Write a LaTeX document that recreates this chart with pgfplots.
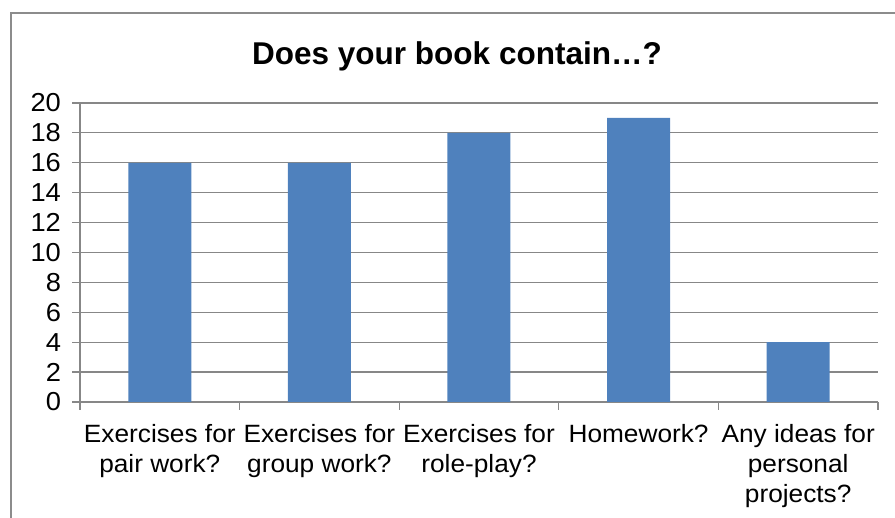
\documentclass[border=0pt]{standalone}
\usepackage{fontspec}
\setmainfont{Liberation Sans}[FakeStretch=1.05]
\newfontfamily\titlefont{Liberation Sans}
\usepackage{pgfplots}
\pgfplotsset{compat=1.18}
\definecolor{barblue}{HTML}{4F81BD}
\definecolor{gridgray}{HTML}{878787}
\definecolor{framegray}{HTML}{8C8C8C}
\begin{document}
\begin{tikzpicture}
\useasboundingbox (0,0) rectangle (447.5pt,259pt);
\clip (0,0) rectangle (447.5pt,259pt);
\draw[framegray, line width=0.85pt] (5.5pt,-20pt) -- (5.5pt,252.5pt) -- (470pt,252.5pt);
\node[font={\titlefont\fontsize{15.75}{18}\selectfont\bfseries}] at (228.5pt,231pt) {Does your book contain…?};
\begin{axis}[
  at={(40pt,58pt)}, anchor=south west,
  scale only axis, width=399pt, height=149.5pt,
  xmin=-0.5, xmax=4.5, ymin=0, ymax=20,
  ytick={0,2,...,20},
  xtick={-0.5,0.5,...,4.5}, xticklabels={},
  extra x ticks={0,1,2,3,4},
  extra x tick labels={Exercises for\\pair work?, Exercises for\\group work?, Exercises for\\role-play?, Homework?, Any ideas for\\personal\\projects?},
  extra x tick style={major tick length=0pt, grid=none},
  axis lines=left, axis line style={-, gridgray, line width=0.6pt},
  ymajorgrids, grid style={gridgray, line width=0.6pt},
  tick align=outside, major tick length=4pt,
  tick style={gridgray, line width=0.6pt},
  every tick label/.append style={font=\fontsize{12.5}{15.2}\selectfont, text=black},
  xticklabel style={align=center, yshift=-7.5pt},
  yticklabel style={xshift=-2pt, font=\fontsize{13}{15}\selectfont},
  /pgf/number format/assume math mode=true,
  clip=false,
]
\addplot[ybar, bar width=31.5pt, fill=barblue, draw=none] coordinates {(0,16) (1,16) (2,18) (3,19) (4,4)};
\end{axis}
\end{tikzpicture}
\end{document}
